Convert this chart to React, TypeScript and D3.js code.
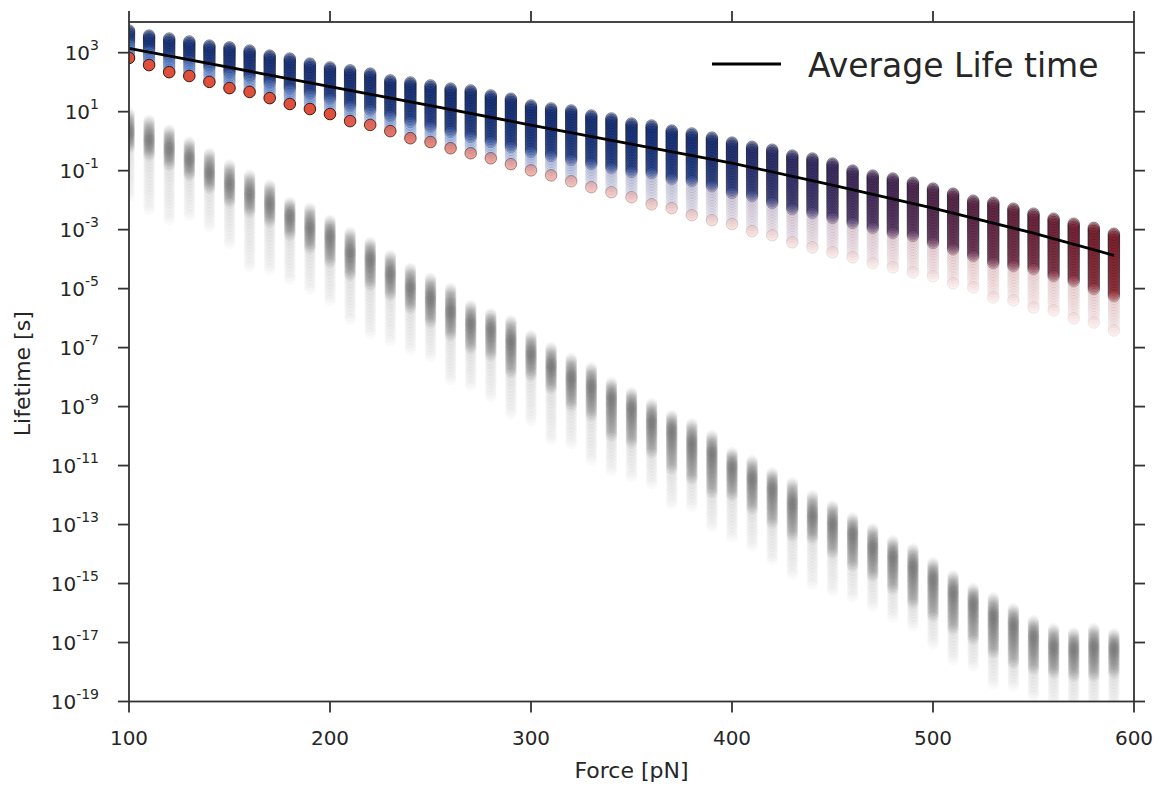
import React from 'react';
import * as d3 from 'd3';

// ---------- data ----------
const forces = [100,110,120,130,140,150,160,170,180,190,200,210,220,230,240,250,260,270,280,290,300,310,320,330,340,350,360,370,380,390,400,410,420,430,440,450,460,470,480,490,500,510,520,530,540,550,560,570,580,590];

// log10(lifetime [s]) per force column, sample set 1 (blue→red)
const blueTopLog = [3.75,3.58,3.48,3.38,3.24,3.18,3.07,2.90,2.80,2.63,2.50,2.40,2.29,2.06,1.99,1.89,1.78,1.72,1.55,1.44,1.21,1.11,1.04,0.87,0.77,0.60,0.53,0.36,0.26,0.12,-0.05,-0.19,-0.29,-0.49,-0.59,-0.76,-1.00,-1.17,-1.27,-1.41,-1.61,-1.78,-2.02,-2.09,-2.29,-2.46,-2.63,-2.80,-2.94,-3.14];
const blueDenseLog = [3.33,3.09,2.85,2.72,2.51,2.31,2.17,1.97,1.77,1.60,1.43,1.19,1.05,0.85,0.65,0.48,0.31,0.14,-0.03,-0.20,-0.37,-0.51,-0.64,-0.78,-0.92,-1.05,-1.09,-1.29,-1.36,-1.53,-1.76,-1.87,-2.10,-2.31,-2.44,-2.61,-2.78,-2.95,-3.12,-3.22,-3.46,-3.67,-3.90,-4.14,-4.24,-4.34,-4.58,-4.75,-5.02,-5.26];
const blueMinLog = [2.82,2.58,2.34,2.21,2.01,1.80,1.67,1.46,1.26,1.09,0.92,0.68,0.55,0.34,0.10,-0.03,-0.24,-0.41,-0.58,-0.78,-0.99,-1.16,-1.36,-1.56,-1.73,-1.90,-2.14,-2.27,-2.51,-2.68,-2.81,-3.05,-3.19,-3.43,-3.60,-3.77,-3.94,-4.14,-4.28,-4.45,-4.58,-4.82,-4.96,-5.30,-5.40,-5.64,-5.74,-6.01,-6.15,-6.42];

// sample set 2 (grey)
const greyTopLog = [0.95,0.71,0.38,-0.03,-0.41,-0.81,-1.15,-1.49,-2.07,-2.27,-2.68,-3.09,-3.43,-3.87,-4.31,-4.65,-4.99,-5.57,-5.84,-6.08,-6.59,-7.00,-7.37,-7.68,-8.18,-8.52,-8.90,-9.30,-9.58,-9.98,-10.56,-10.83,-11.24,-11.58,-12.02,-12.36,-12.77,-13.14,-13.55,-13.82,-14.29,-14.73,-15.17,-15.48,-15.85,-16.26,-16.53,-16.67,-16.53,-16.70];
const greyPeakLog = [0.31,0.04,-0.24,-0.58,-1.05,-1.43,-1.77,-2.10,-2.51,-2.92,-3.19,-3.77,-3.97,-4.48,-4.96,-5.30,-5.74,-6.15,-6.35,-6.76,-7.20,-7.61,-8.01,-8.29,-8.69,-9.03,-9.48,-9.75,-10.22,-10.56,-11.00,-11.41,-11.75,-12.26,-12.70,-12.94,-13.28,-13.72,-14.06,-14.40,-14.80,-15.25,-15.65,-16.09,-16.36,-16.77,-17.11,-17.18,-17.11,-17.18];
const greyDenseLog = [-0.25,-0.51,-0.85,-1.19,-1.63,-2.10,-2.44,-2.78,-3.22,-3.67,-4.14,-4.58,-4.92,-5.26,-5.70,-6.18,-6.62,-7.06,-7.30,-7.88,-7.98,-8.42,-9.00,-9.34,-10.02,-10.25,-10.59,-11.14,-11.48,-11.95,-12.05,-12.50,-12.97,-13.41,-13.51,-13.99,-14.43,-14.77,-15.21,-15.69,-16.13,-16.57,-16.91,-17.38,-17.72,-17.93,-18.06,-18.16,-18.16,-18.06];
const greyMinLog = [-1.87,-2.31,-2.65,-2.51,-2.89,-3.46,-4.24,-4.34,-4.68,-5.02,-5.40,-6.04,-6.52,-6.76,-7.06,-7.30,-8.08,-8.28,-8.66,-9.23,-9.48,-10.12,-10.25,-10.80,-11.17,-11.37,-11.61,-12.29,-12.39,-13.07,-13.41,-13.72,-14.19,-14.67,-15.01,-15.25,-15.45,-15.76,-16.13,-16.43,-17.04,-17.58,-17.79,-18.40,-18.47,-18.81,-18.98,-19.15,-19.15,-19.15];

// average life time line
const avgForces = [100,150,200,250,300,350,400,450,500,550,590];
const avgLifetime = [1.41e3,3.16e2,7.06e1,1.59e1,3.53,7.94e-1,1.80e-1,3.24e-2,5.37e-3,7.59e-4,1.35e-4];

const xTicks = [100,200,300,400,500,600];
const yTickExps = [3,1,-1,-3,-5,-7,-9,-11,-13,-15,-17,-19];
const legendLabel = 'Average Life time';
const xLabel = 'Force [pN]';
const yLabel = 'Lifetime [s]';

// ---------- layout ----------
const W = 1163, H = 787;
const L = 129, R = 1134, T = 22, B = 701.5;
const FONT = "'DejaVu Sans', sans-serif";
const AXIS = '#333333';
const TEXT = '#262626';
const RAD = 5.8;

const x = d3.scaleLinear().domain([100, 600]).range([L, R]);
const y = d3.scaleLog().domain([1e-19, 1e4]).range([B, 23.2]);
const yl = (v: number) => y(Math.pow(10, v));
const clamp = (v: number) => Math.max(0, Math.min(1, v));

function greyColumn(i: number) {
  const cx = x(forces[i]);
  const yT = yl(greyTopLog[i]), yP = yl(greyPeakLog[i]), yD = yl(greyDenseLog[i]), yM = yl(greyMinLog[i]);
  const out: JSX.Element[] = [];
  const n = Math.max(2, Math.ceil((yD - yT) / 1.6));
  for (let k = 0; k <= n; k++) {
    const cy = yT + (yD - yT) * k / n;
    const w = cy < yP ? 0.25 + 0.75 * (cy - yT) / Math.max(1, yP - yT) : 1 - 0.6 * (cy - yP) / Math.max(1, yD - yP);
    out.push(<circle key={`g${i}-${k}`} cx={cx} cy={cy} r={RAD} fill="#4a4a4a" fillOpacity={0.17 * w} />);
  }
  const m = Math.max(1, Math.ceil((yM - yD) / 3.5));
  for (let k = 1; k <= m; k++) {
    const cy = yD + (yM - yD) * k / m;
    const a = 0.055 * (1 - 0.5 * k / m);
    out.push(<circle key={`gt${i}-${k}`} cx={cx} cy={cy} r={RAD} fill="#555" fillOpacity={a} />);
  }
  return out;
}

function blueColumn(i: number) {
  const cx = x(forces[i]);
  const yT = yl(blueTopLog[i]), yD = yl(blueDenseLog[i]), yM = yl(blueMinLog[i]);
  const t = clamp((i - 28) / 21);
  const fill = d3.interpolateRgb('#1a3a8c', '#9a2630')(t);
  const t2 = clamp((i - 18) / 24);
  const tailFill = d3.interpolateRgb('#4a78cc', '#cf7579')(t2);
  const out: JSX.Element[] = [];
  const n = Math.max(2, Math.ceil((yD - yT) / 1.6));
  for (let k = 0; k <= n; k++) {
    const cy = yT + (yD - yT) * k / n;
    const a = 0.42 - 0.16 * k / n;
    out.push(<circle key={`b${i}-${k}`} cx={cx} cy={cy} r={RAD} fill={fill} fillOpacity={a} stroke="#000010" strokeOpacity={a} strokeWidth={0.9} />);
  }
  const tailA = 0.42 * Math.exp(-i / 12) + 0.09;
  const m = Math.max(1, Math.ceil((yM - yD) / 3));
  for (let k = 1; k < m; k++) {
    const cy = yD + (yM - yD) * k / m;
    const a = tailA * (1 - 0.55 * k / m);
    out.push(<circle key={`bt${i}-${k}`} cx={cx} cy={cy} r={RAD} fill={tailFill} fillOpacity={a} stroke="#15153a" strokeOpacity={a * 0.8} strokeWidth={0.8} />);
  }
  return out;
}

function minDot(i: number) {
  const cx = x(forces[i]);
  const cy = yl(blueMinLog[i]);
  const a = i <= 10 ? 1 : Math.max(0.08, Math.exp(-(i - 10) * 0.09));
  return <circle key={`m${i}`} cx={cx} cy={cy} r={RAD} fill="#de4f3c" fillOpacity={a} stroke="#2a0c08" strokeOpacity={a * 0.9} strokeWidth={1} />;
}

export default function App() {
  const idx = d3.range(forces.length);
  const line = d3.line<number>().x((_, k) => x(avgForces[k])).y((v) => y(v));
  return (
    <svg width={W} height={H} style={{ position: 'absolute', left: 0, top: 0, background: '#fff' }} fontFamily={FONT}>
      <defs>
        <clipPath id="plot"><rect x={L} y={T} width={R - L} height={B - T} /></clipPath>
      </defs>
      <rect x={0} y={0} width={W} height={H} fill="#fff" />
      <g clipPath="url(#plot)">
        {idx.map((i) => <g key={`gc${i}`}>{greyColumn(i)}</g>)}
        {idx.map((i) => <g key={`bc${i}`}>{blueColumn(i)}</g>)}
        {idx.map((i) => minDot(i))}
        <path d={line(avgLifetime) || ''} fill="none" stroke="#000" strokeWidth={2.8} strokeLinejoin="round" />
      </g>
      {/* frame */}
      <rect x={L} y={T} width={R - L} height={B - T} fill="none" stroke={AXIS} strokeWidth={1.8} />
      {/* x ticks bottom & top */}
      {xTicks.map((v) => (
        <g key={`xt${v}`}>
          <line x1={x(v)} x2={x(v)} y1={B} y2={B + 11} stroke={AXIS} strokeWidth={1.8} />
          <line x1={x(v)} x2={x(v)} y1={T} y2={T - 11} stroke={AXIS} strokeWidth={1.8} />
          <text x={x(v)} y={745} textAnchor="middle" fontSize={20} fill={TEXT}>{v}</text>
        </g>
      ))}
      {/* y ticks left & right */}
      {yTickExps.map((e) => {
        const yy = y(Math.pow(10, e));
        return (
          <g key={`yt${e}`}>
            <line x1={L} x2={L - 11} y1={yy} y2={yy} stroke={AXIS} strokeWidth={1.8} />
            <line x1={R} x2={R + 11} y1={yy} y2={yy} stroke={AXIS} strokeWidth={1.8} />
            <text x={99} y={yy + 7.3} textAnchor="end" fontSize={20} fill={TEXT}>
              <tspan>10</tspan>
              <tspan dy={-10} fontSize={14}>{e < 0 ? `-${-e}` : `${e}`}</tspan>
            </text>
          </g>
        );
      })}
      <text x={(L + R) / 2} y={778} textAnchor="middle" fontSize={22} fill={TEXT}>{xLabel}</text>
      <text transform={`translate(30,${(T + B) / 2 + 12}) rotate(-90)`} textAnchor="middle" fontSize={22} fill={TEXT}>{yLabel}</text>
      {/* legend */}
      <line x1={712} x2={781} y1={64} y2={64} stroke="#000" strokeWidth={3} />
      <text x={808} y={76.5} fontSize={33} fill={TEXT}>{legendLabel}</text>
    </svg>
  );
}
